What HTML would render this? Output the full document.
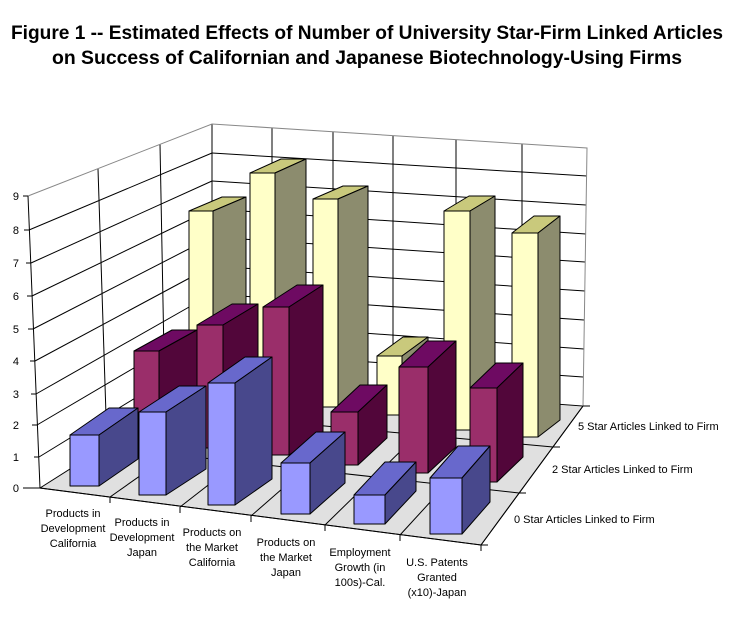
<!DOCTYPE html>
<html><head><meta charset="utf-8"><style>
html,body{margin:0;padding:0;background:#fff;}
svg{display:block;}
text{font-family:"Liberation Sans",Arial,sans-serif;}
</style></head><body>
<svg width="734" height="622" viewBox="0 0 734 622" xmlns="http://www.w3.org/2000/svg">
<text x="367" y="39" font-size="19" font-weight="bold" text-anchor="middle" textLength="712" lengthAdjust="spacingAndGlyphs">Figure 1 -- Estimated Effects of Number of University Star-Firm Linked Articles</text>
<text x="367" y="64" font-size="19" font-weight="bold" text-anchor="middle" textLength="630" lengthAdjust="spacingAndGlyphs">on Success of Californian and Japanese Biotechnology-Using Firms</text>

<!-- walls -->
<polygon points="28,196 212,124 212,379 40,488" fill="#fff"/>
<polygon points="40,488 212,379 583,406 481,545" fill="#e0e0e0" stroke="#000" stroke-width="1"/>
<g stroke="#000" stroke-width="1" fill="none">
<line x1="39" y1="457" x2="212" y2="351"/><line x1="37" y1="425" x2="212" y2="322"/>
<line x1="36" y1="394" x2="212" y2="294"/><line x1="35" y1="361" x2="212" y2="266"/>
<line x1="33" y1="329" x2="212" y2="237"/><line x1="32" y1="296" x2="212" y2="209"/>
<line x1="31" y1="263" x2="212" y2="181"/><line x1="29" y1="230" x2="212" y2="153"/>
<line x1="212" y1="351" x2="583" y2="377"/><line x1="212" y1="322" x2="584" y2="349"/>
<line x1="212" y1="294" x2="584" y2="320"/><line x1="212" y1="266" x2="585" y2="291"/>
<line x1="212" y1="237" x2="585" y2="262"/><line x1="212" y1="209" x2="586" y2="234"/>
<line x1="212" y1="181" x2="586" y2="205"/><line x1="212" y1="153" x2="587" y2="176"/>
<line x1="98" y1="169" x2="107" y2="446"/><line x1="160" y1="144" x2="165" y2="408"/>
<line x1="272" y1="128" x2="272" y2="383"/><line x1="333" y1="132" x2="333" y2="388"/>
<line x1="393" y1="136" x2="393" y2="392"/><line x1="456" y1="140" x2="456" y2="397"/>
<line x1="522" y1="144" x2="522" y2="402"/>
<line x1="212" y1="124" x2="212" y2="379"/>
<line x1="110" y1="497" x2="272" y2="383"/><line x1="180" y1="507" x2="333" y2="388"/>
<line x1="251" y1="516" x2="393" y2="392"/><line x1="325" y1="525" x2="456" y2="397"/>
<line x1="400" y1="535" x2="522" y2="402"/>
<line x1="161" y1="411" x2="553" y2="447"/><line x1="104" y1="447" x2="519" y2="493"/>
</g>
<g stroke="#888" stroke-width="1" fill="none">
<polyline points="28,196 212,124 587,148 583,406"/>
</g>

<!-- yellow row -->
<g stroke="#000" stroke-width="1" stroke-linejoin="round">
<polygon fill="#ffffc8" points="189,211 213,211 213,398 189,398"/><polygon fill="#c9c97c" points="189,211 213,211 246,197 222,197"/><polygon fill="#8c8c6e" points="213,211 246,197 246,384 213,398"/>
<polygon fill="#ffffc8" points="250,173 275,173 275,402 250,402"/><polygon fill="#c9c97c" points="250,173 275,173 306,159 281,159"/><polygon fill="#8c8c6e" points="275,173 306,159 306,388 275,402"/>
<polygon fill="#ffffc8" points="313,199 338,199 338,407 313,407"/><polygon fill="#c9c97c" points="313,199 338,199 368,186 343,186"/><polygon fill="#8c8c6e" points="338,199 368,186 368,394 338,407"/>
<polygon fill="#ffffc8" points="377,356 402,356 402,415 377,415"/><polygon fill="#c9c97c" points="377,356 402,356 428,337 403,337"/><polygon fill="#8c8c6e" points="402,356 428,337 428,396 402,415"/>
<polygon fill="#ffffc8" points="444,211 470,211 470,430 444,430"/><polygon fill="#c9c97c" points="444,211 470,211 495,196 469,196"/><polygon fill="#8c8c6e" points="470,211 495,196 495,415 470,430"/>
<polygon fill="#ffffc8" points="512,233 538,233 538,437 512,437"/><polygon fill="#c9c97c" points="512,233 538,233 560,216 534,216"/><polygon fill="#8c8c6e" points="538,233 560,216 560,420 538,437"/>
<!-- maroon row -->
<polygon fill="#9a2e6a" points="134,351 159,351 159,442 134,442"/><polygon fill="#6e0a62" points="134,351 159,351 197,330 172,330"/><polygon fill="#52063a" points="159,351 197,330 197,421 159,442"/>
<polygon fill="#9a2e6a" points="197,325 223,325 223,448 197,448"/><polygon fill="#6e0a62" points="197,325 223,325 258,304 232,304"/><polygon fill="#52063a" points="223,325 258,304 258,427 223,448"/>
<polygon fill="#9a2e6a" points="263,307 289,307 289,455 263,455"/><polygon fill="#6e0a62" points="263,307 289,307 323,285 297,285"/><polygon fill="#52063a" points="289,307 323,285 323,433 289,455"/>
<polygon fill="#9a2e6a" points="331,412 358,412 358,465 331,465"/><polygon fill="#6e0a62" points="331,412 358,412 387,385 360,385"/><polygon fill="#52063a" points="358,412 387,385 387,438 358,465"/>
<polygon fill="#9a2e6a" points="399,367 428,367 428,473 399,473"/><polygon fill="#6e0a62" points="399,367 428,367 456,341 427,341"/><polygon fill="#52063a" points="428,367 456,341 456,447 428,473"/>
<polygon fill="#9a2e6a" points="470,388 497,388 497,482 470,482"/><polygon fill="#6e0a62" points="470,388 497,388 523,363 496,363"/><polygon fill="#52063a" points="497,388 523,363 523,457 497,482"/>
<!-- blue row -->
<polygon fill="#9999ff" points="70,435 99,435 99,486 70,486"/><polygon fill="#6868cc" points="70,435 99,435 138,408 109,408"/><polygon fill="#48488c" points="99,435 138,408 138,459 99,486"/>
<polygon fill="#9999ff" points="139,412 166,412 166,495 139,495"/><polygon fill="#6868cc" points="139,412 166,412 206,386 179,386"/><polygon fill="#48488c" points="166,412 206,386 206,469 166,495"/>
<polygon fill="#9999ff" points="208,383 235,383 235,505 208,505"/><polygon fill="#6868cc" points="208,383 235,383 272,357 245,357"/><polygon fill="#48488c" points="235,383 272,357 272,479 235,505"/>
<polygon fill="#9999ff" points="281,463 310,463 310,514 281,514"/><polygon fill="#6868cc" points="281,463 310,463 345,432 316,432"/><polygon fill="#48488c" points="310,463 345,432 345,483 310,514"/>
<polygon fill="#9999ff" points="354,495 385,495 385,524 354,524"/><polygon fill="#6868cc" points="354,495 385,495 416,462 385,462"/><polygon fill="#48488c" points="385,495 416,462 416,491 385,524"/>
<polygon fill="#9999ff" points="430,478 462,478 462,534 430,534"/><polygon fill="#6868cc" points="430,478 462,478 490,446 458,446"/><polygon fill="#48488c" points="462,478 490,446 490,502 462,534"/>
</g>

<!-- axes -->
<g stroke="#000" stroke-width="1" fill="none">
<line x1="28" y1="196" x2="40" y2="488"/>
<line x1="40" y1="488" x2="481" y2="545"/>
<line x1="583" y1="406" x2="481" y2="545"/>
<line x1="23" y1="488" x2="40" y2="488"/><line x1="34" y1="457" x2="39" y2="457"/>
<line x1="32" y1="425" x2="37" y2="425"/><line x1="31" y1="394" x2="36" y2="394"/>
<line x1="30" y1="361" x2="35" y2="361"/><line x1="28" y1="329" x2="33" y2="329"/>
<line x1="27" y1="296" x2="32" y2="296"/><line x1="26" y1="263" x2="31" y2="263"/>
<line x1="24" y1="230" x2="29" y2="230"/><line x1="23" y1="196" x2="28" y2="196"/>
<line x1="110" y1="497" x2="110" y2="503"/><line x1="180" y1="507" x2="180" y2="513"/>
<line x1="251" y1="516" x2="251" y2="522"/><line x1="325" y1="525" x2="325" y2="531"/>
<line x1="400" y1="535" x2="400" y2="541"/><line x1="481" y1="545" x2="481" y2="551"/>
<line x1="583" y1="406" x2="590" y2="406"/><line x1="553" y1="447" x2="560" y2="447"/>
<line x1="519" y1="493" x2="526" y2="493"/><line x1="481" y1="545" x2="488" y2="545"/>
</g>
<g font-size="11" text-anchor="end" fill="#000">
<text x="19" y="492">0</text><text x="19" y="461">1</text><text x="19" y="429">2</text>
<text x="19" y="398">3</text><text x="19" y="365">4</text><text x="19" y="333">5</text>
<text x="19" y="300">6</text><text x="19" y="267">7</text><text x="19" y="234">8</text>
<text x="19" y="200">9</text>
</g>
<g font-size="11" fill="#000">
<text x="578" y="430">5 Star Articles Linked to Firm</text>
<text x="552" y="473">2 Star Articles Linked to Firm</text>
<text x="514" y="523">0 Star Articles Linked to Firm</text>
</g>
<g font-size="11" text-anchor="middle" fill="#000">
<text x="73" y="517">Products in</text><text x="73" y="532">Development</text><text x="73" y="547">California</text>
<text x="142" y="526">Products in</text><text x="142" y="541">Development</text><text x="142" y="556">Japan</text>
<text x="212" y="536">Products on</text><text x="212" y="551">the Market</text><text x="212" y="566">California</text>
<text x="286" y="546">Products on</text><text x="286" y="561">the Market</text><text x="286" y="576">Japan</text>
<text x="360" y="556">Employment</text><text x="360" y="571">Growth (in</text><text x="360" y="586">100s)-Cal.</text>
<text x="437" y="566">U.S. Patents</text><text x="437" y="581">Granted</text><text x="437" y="596">(x10)-Japan</text>
</g>
</svg>
</body></html>
